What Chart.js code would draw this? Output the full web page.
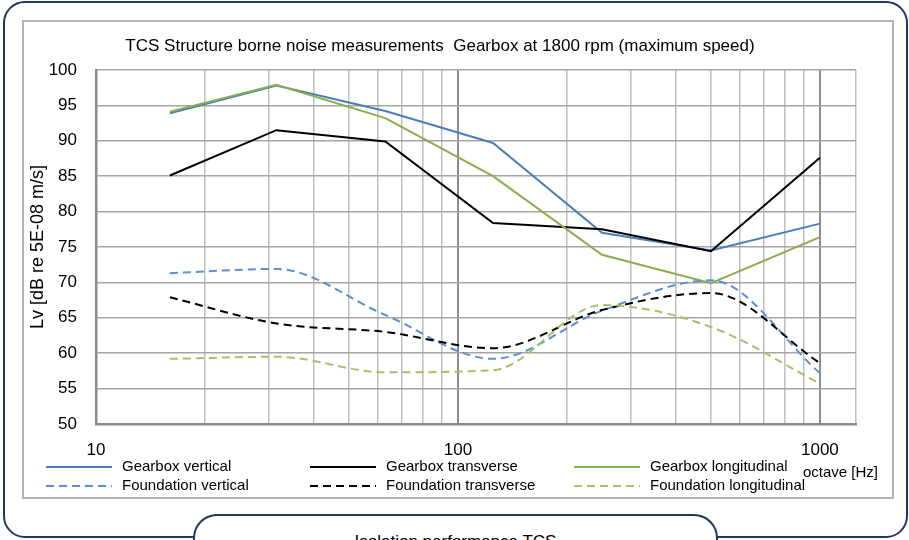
<!DOCTYPE html>
<html>
<head>
<meta charset="utf-8">
<title>TCS structure borne noise</title>
<script src="https://cdn.jsdelivr.net/npm/chart.js@4.4.1/dist/chart.umd.min.js"></script>
<style>
  body { margin: 0; background: #fff; width: 909px; height: 540px; overflow: hidden; position: relative;
         font-family: "Liberation Sans", Arial, sans-serif; }
  #outer { position: absolute; left: 3px; top: 1px; width: 901px; height: 533px;
           border: 2px solid #1f3864; border-radius: 22px; }
  #frame { position: absolute; left: 22px; top: 20px; width: 868px; height: 475px;
           border: 2px solid #b3b3b3; background: #fff; }
  #frame canvas { position: absolute; left: 0; top: 0; }
  #tab { position: absolute; left: 193px; top: 514px; width: 525px; height: 60px; z-index: 2;
         border: 2px solid #1f3864; border-bottom: none; border-radius: 24px 24px 0 0;
         background: #fff; text-align: center; font-size: 17px; line-height: 20px;
         padding-top: 16px; box-sizing: border-box; }
</style>
</head>
<body>
<div id="outer"></div>
<div id="frame"><canvas id="noiseChart" width="868" height="475"></canvas></div>
<div id="tab">Isolation performance TCS</div>
<script>
// octave band centre frequencies [Hz]
const freqs = [16, 31.5, 63, 125, 250, 500, 1000];

// Lv [dB re 5E-08 m/s]
const gearboxVertical       = [93.9, 97.8, 94.2, 89.7, 77.0, 74.5, 78.3];
const gearboxTransverse     = [85.1, 91.5, 89.9, 78.4, 77.5, 74.4, 87.6];
const gearboxLongitudinal   = [94.1, 97.9, 93.2, 85.0, 73.9, 69.9, 76.4];
const foundationVertical    = [71.3, 71.9, 65.4, 59.2, 66.0, 70.3, 57.2];
const foundationTransverse  = [67.9, 64.2, 63.0, 60.7, 66.1, 68.5, 58.6];
const foundationLongitudinal= [59.2, 59.5, 57.3, 57.6, 66.8, 63.7, 55.7];

// axis ticks
const xGridValues = [10, 20, 30, 40, 50, 60, 70, 80, 90, 100, 200, 300, 400, 500, 600, 700, 800, 900, 1000, 1258];
const xLabelValues = [10, 100, 1000];
const yMin = 50, yMax = 100, yStep = 5;

const chartTitle = 'TCS Structure borne noise measurements  Gearbox at 1800 rpm (maximum speed)';
const yAxisTitle = 'Lv [dB re 5E-08 m/s]';
const xAxisTitle = 'octave [Hz]';
const FONT = '"Liberation Sans", Arial, sans-serif';

function series(label, values, color, dashed, idx) {
    return {
        label: label,
        data: values.map((v, i) => ({ x: freqs[i], y: v })),
        borderColor: color,
        borderWidth: 2,
        borderDash: dashed ? [8, 5] : [],
        tension: dashed ? 0.4 : 0, // excel smoothed lines for the foundation series
        cubicInterpolationMode: dashed ? 'monotone' : 'default',
        pointRadius: 0,
        fill: false,
        order: 10 - idx // later series on top like excel
    };
}

const datasets = [
    series('Gearbox vertical', gearboxVertical, '#4a7ebb', false, 0),
    series('Gearbox transverse', gearboxTransverse, '#000000', false, 1),
    series('Gearbox longitudinal', gearboxLongitudinal, '#8cad4e', false, 2),
    series('Foundation vertical', foundationVertical, '#5b8fd0', true, 3),
    series('Foundation transverse', foundationTransverse, '#000000', true, 4),
    series('Foundation longitudinal', foundationLongitudinal, '#a5c26a', true, 5)
];

// title, 3x2 legend and the x axis caption
const decorations = {
    id: 'decorations',
    afterDraw(chart) {
        const ctx = chart.ctx;
        ctx.save();
        ctx.fillStyle = '#000';
        ctx.textBaseline = 'middle';
        ctx.font = '17px ' + FONT;
        ctx.textAlign = 'center';
        ctx.fillText(chartTitle, 416, 24);

        ctx.font = '15px ' + FONT;
        ctx.textAlign = 'left';
        chart.data.datasets.forEach((ds, i) => {
            const x = 22 + (i % 3) * 264;
            const y = 445 + Math.floor(i / 3) * 19;
            ctx.strokeStyle = ds.borderColor;
            ctx.lineWidth = 2;
            ctx.setLineDash(ds.borderDash);
            ctx.beginPath();
            ctx.moveTo(x, y);
            ctx.lineTo(x + 66, y);
            ctx.stroke();
            ctx.setLineDash([]);
            ctx.fillText(ds.label, x + 76, y);
        });
        ctx.fillText(xAxisTitle, 779, 451);
        ctx.restore();
    }
};

new Chart(document.getElementById('noiseChart').getContext('2d'), {
    type: 'line',
    data: { datasets: datasets },
    plugins: [decorations],
    options: {
        responsive: false,
        animation: false,
        layout: { padding: { left: 0, top: 48, right: 36, bottom: 0 } },
        plugins: { legend: { display: false }, tooltip: { enabled: false } },
        scales: {
            x: {
                type: 'logarithmic',
                min: 10,
                max: 1258,
                afterBuildTicks: s => { s.ticks = xGridValues.map(v => ({ value: v })); },
                afterFit: s => { s.height = 73; },
                ticks: {
                    autoSkip: false, maxRotation: 0, padding: 16, color: '#000',
                    font: { size: 17, family: FONT },
                    callback: v => xLabelValues.includes(v) ? String(v) : ''
                },
                grid: {
                    drawTicks: false,
                    color: c => xLabelValues.includes(c.tick.value) ? '#8c8c8c' : '#bfbfbf',
                    lineWidth: c => xLabelValues.includes(c.tick.value) ? 2 : 1.5
                },
                border: { color: '#8c8c8c', width: 2.5 }
            },
            y: {
                min: yMin,
                max: yMax,
                afterFit: s => { s.width = 72; },
                ticks: { stepSize: yStep, padding: 19, color: '#000', font: { size: 17, family: FONT } },
                grid: { drawTicks: false, color: '#a6a6a6', lineWidth: 1.5 },
                border: { color: '#8c8c8c', width: 2.5 },
                title: { display: true, text: yAxisTitle, color: '#000', padding: { top: 3 },
                         font: { size: 18, family: FONT } }
            }
        }
    }
});
</script>
</body>
</html>
